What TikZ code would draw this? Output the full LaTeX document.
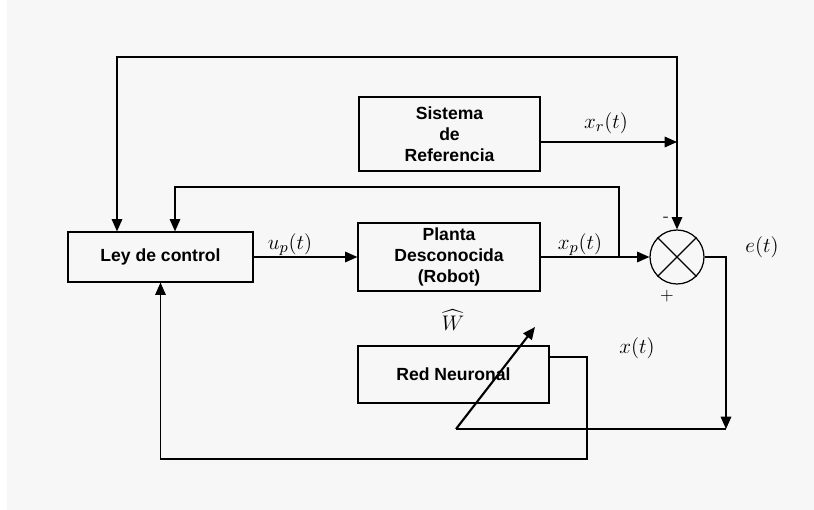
\documentclass[tikz,border=0pt]{standalone}
\usepackage{fontspec}
\setsansfont{Liberation Sans}
\usepackage{amsmath}
\usepackage{tikz}
\usetikzlibrary{arrows.meta}
\definecolor{fondo}{HTML}{F7F7F7}
\tikzstyle{bloque} = [draw, rectangle, line width=0.7pt, font=\sffamily\bfseries,
   align=center, inner sep=0pt]
\tikzstyle{senal} = [font=\fontsize{13}{15}\selectfont]
\tikzstyle{signo} = [font=\fontsize{10}{12}\selectfont]
\tikzstyle{peso} = [line width=1.2pt, ->]

\begin{document}
\begin{tikzpicture}[x=0.02cm, y=-0.02cm, line width=0.8pt,
   >={Triangle[length=7pt,width=6pt]}]
  \fill[white] (0,0) rectangle (814,510);
  \fill[fondo] (7,0) rectangle (814,510);
  \useasboundingbox (0,0) rectangle (814,510);

  \node[bloque, minimum width=3.7cm, minimum height=1cm] at (160.5,257)(ley){Ley de control};
  \node[bloque, minimum width=3.64cm, minimum height=1.36cm] at (449,257)(pla){Planta\\Desconocida\\(Robot)};
  \node[bloque, minimum width=3.62cm, minimum height=1.48cm] at (449.5,134)(sis){Sistema\\de\\Referencia};
  \node[bloque, minimum width=3.82cm, minimum height=1.14cm] at (453.5,374.5)(red){Red Neuronal};
  \node[draw, circle, line width=0.7pt, minimum size=1.08cm, inner sep=0pt] at (677,257)(sum){};
  \draw[line width=0.7pt] (sum.north east) -- (sum.south west);
  \draw[line width=0.7pt] (sum.north west) -- (sum.south east);

  \node[senal] at (290,245)(up){$u_p(t)$};
  \node[senal] at (580,245)(xp){$x_p(t)$};
  \node[senal] at (606,123)(xrl){$x_r(t)$};
  \node[senal] at (762,247)(et){$e(t)$};
  \node[senal] at (637,348)(xt){$x(t)$};
  \node[senal] at (453,320)(w){$\widehat{W}$};
  \node[signo] at (666,219)(menos){-};
  \node[signo] at (667,296)(mas){+};

  \coordinate (t) at (117,57);
  \coordinate (f) at (175,187);
  \coordinate (d) at (619,257);
  \coordinate (xr) at (677,142);
  \coordinate (ec) at (726,429);
  \coordinate (wb) at (456,429);
  \coordinate (wt) at (535,327);
  \coordinate (rn) at (587,459);

  \draw[<->] (ley.north -| t) -- (t) -| (sum.north);
  \draw[->] (sis.east |- xr) -- (xr);
  \draw[->] (ley.east) -- (pla.west);
  \draw[->] (pla.east) -- (sum.west);
  \draw[->] (d) |- (f) -- (ley.north -| f);
  \draw[->] (sum.east) -| (ec);
  \draw (ec) -- (wb);
  \draw[peso] (wb) -- (wt);
  \draw[->] ([yshift=0.35cm]red.east) -| (rn) -| (ley.south);
\end{tikzpicture}
\end{document}
